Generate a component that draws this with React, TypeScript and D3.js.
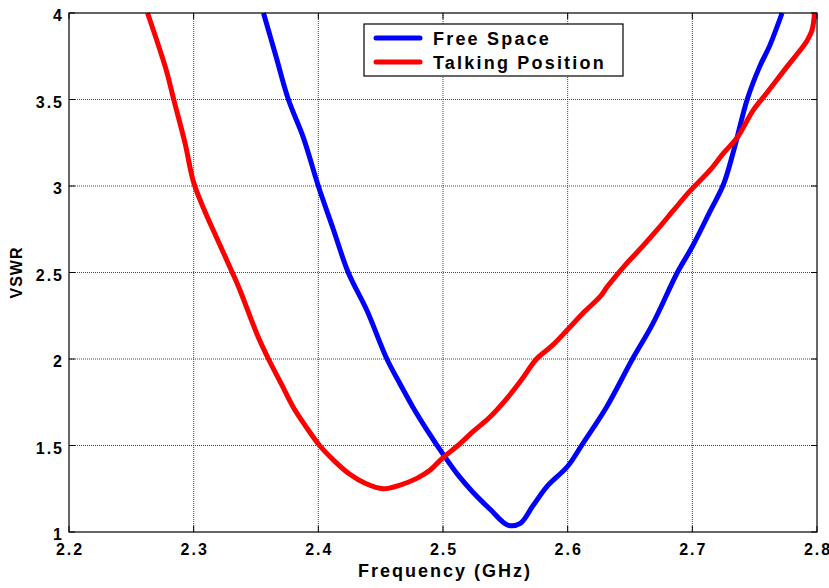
import React, { useRef, useEffect } from 'react';
import * as d3 from 'd3';

const WIDTH = 829;
const HEIGHT = 588;
const M = { left: 69, right: 12, top: 13, bottom: 56 };

// Free Space
const freeFreq = [
  2.356, 2.366, 2.376, 2.388, 2.4, 2.412, 2.424, 2.439, 2.455, 2.466, 2.476, 2.488, 2.5, 2.512,
  2.524, 2.538, 2.552, 2.562, 2.572, 2.583, 2.6, 2.612, 2.631, 2.652, 2.668, 2.688, 2.7, 2.714,
  2.725, 2.733, 2.744, 2.754, 2.762, 2.772,
];
const freeVswr = [
  4.0, 3.75, 3.5, 3.28, 3.0, 2.75, 2.5, 2.28, 2.0, 1.85, 1.72, 1.58, 1.45, 1.33,
  1.23, 1.13, 1.04, 1.05, 1.15, 1.26, 1.38, 1.51, 1.72, 2.0, 2.2, 2.5, 2.65, 2.85,
  3.01, 3.2, 3.5, 3.69, 3.81, 4.0,
];

// Talking Position
const talkFreq = [
  2.263, 2.278, 2.284, 2.293, 2.3, 2.308, 2.316, 2.331, 2.337, 2.351, 2.36, 2.37, 2.38, 2.39,
  2.401, 2.413, 2.425, 2.438, 2.452, 2.465, 2.479, 2.49, 2.5, 2.512, 2.524, 2.537, 2.551, 2.563,
  2.575, 2.588, 2.6, 2.613, 2.626, 2.632, 2.647, 2.66, 2.671, 2.685, 2.698, 2.714, 2.725, 2.736,
  2.749, 2.76, 2.776, 2.786, 2.792, 2.796, 2.798,
];
const talkVswr = [
  4.0, 3.67, 3.5, 3.25, 3.02, 2.87, 2.74, 2.5, 2.4, 2.14, 2.0, 1.86, 1.72, 1.61,
  1.5, 1.41, 1.335, 1.28, 1.25, 1.27, 1.31, 1.36, 1.43, 1.5, 1.58, 1.66, 1.77, 1.88,
  2.0, 2.08, 2.17, 2.27, 2.36, 2.42, 2.55, 2.65, 2.74, 2.86, 2.97, 3.09, 3.19, 3.28,
  3.44, 3.54, 3.69, 3.78, 3.84, 3.9, 4.0,
];

const xTicks = [2.2, 2.3, 2.4, 2.5, 2.6, 2.7, 2.8];
const yTicks = [1, 1.5, 2, 2.5, 3, 3.5, 4];

const seriesNames = ['Free Space', 'Talking Position'];
const seriesColors = ['#0000FF', '#FF0000'];

const FONT = 'Liberation Sans, Arial, Helvetica, sans-serif';

export default function App() {
  const svgRef = useRef<SVGSVGElement>(null);

  useEffect(() => {
    if (!svgRef.current) return;
    const svg = d3.select(svgRef.current);
    svg.selectAll('*').remove();

    const x0 = M.left;
    const x1 = WIDTH - M.right;
    const y0 = M.top;
    const y1 = HEIGHT - M.bottom;

    const x = d3.scaleLinear().domain([2.2, 2.8]).range([x0, x1]);
    const y = d3.scaleLinear().domain([1, 4]).range([y1, y0]);

    svg.append('rect').attr('width', WIDTH).attr('height', HEIGHT).attr('fill', '#fff');

    svg
      .append('defs')
      .append('clipPath')
      .attr('id', 'plot-clip')
      .append('rect')
      .attr('x', x0)
      .attr('y', y0 - 1)
      .attr('width', x1 - x0)
      .attr('height', y1 - y0 + 2);

    // dotted grid
    const grid = svg.append('g').attr('stroke', '#444').attr('stroke-width', 1).attr('stroke-dasharray', '1,1');
    xTicks.slice(1, -1).forEach((t) => {
      grid.append('line').attr('x1', x(t)).attr('x2', x(t)).attr('y1', y0).attr('y2', y1);
    });
    yTicks.slice(1, -1).forEach((t) => {
      grid.append('line').attr('x1', x0).attr('x2', x1).attr('y1', y(t)).attr('y2', y(t));
    });

    // inward ticks on all sides
    const tl = 6;
    const ticks = svg.append('g').attr('stroke', '#000').attr('stroke-width', 1);
    xTicks.forEach((t) => {
      ticks.append('line').attr('x1', x(t)).attr('x2', x(t)).attr('y1', y1).attr('y2', y1 - tl);
      ticks.append('line').attr('x1', x(t)).attr('x2', x(t)).attr('y1', y0).attr('y2', y0 + tl);
    });
    yTicks.forEach((t) => {
      ticks.append('line').attr('x1', x0).attr('x2', x0 + tl).attr('y1', y(t)).attr('y2', y(t));
      ticks.append('line').attr('x1', x1).attr('x2', x1 - tl).attr('y1', y(t)).attr('y2', y(t));
    });

    // curves
    const line = d3
      .line<[number, number]>()
      .x((d) => x(d[0]))
      .y((d) => y(d[1]))
      .curve(d3.curveCatmullRom.alpha(0.5));

    const series: [number, number][][] = [
      freeFreq.map((f, i) => [f, freeVswr[i]]),
      talkFreq.map((f, i) => [f, talkVswr[i]]),
    ];
    const curves = svg.append('g').attr('clip-path', 'url(#plot-clip)');
    series.forEach((pts, i) => {
      curves
        .append('path')
        .attr('d', line(pts) ?? '')
        .attr('fill', 'none')
        .attr('stroke', seriesColors[i])
        .attr('stroke-width', 5)
        .attr('stroke-linejoin', 'round');
    });

    // frame
    svg
      .append('rect')
      .attr('x', x0)
      .attr('y', y0)
      .attr('width', x1 - x0)
      .attr('height', y1 - y0)
      .attr('fill', 'none')
      .attr('stroke', '#000')
      .attr('stroke-width', 1.2);

    // tick labels
    const labels = svg
      .append('g')
      .attr('font-family', FONT)
      .attr('font-weight', 'bold')
      .attr('font-size', '16px')
      .attr('letter-spacing', '2px')
      .attr('fill', '#000');
    xTicks.forEach((t) => {
      labels
        .append('text')
        .attr('x', x(t) + 1)
        .attr('y', y1 + 23)
        .attr('text-anchor', 'middle')
        .text(String(t));
    });
    yTicks.forEach((t) => {
      labels
        .append('text')
        .attr('x', x0 - 5)
        .attr('y', y(t) + 8)
        .attr('text-anchor', 'end')
        .text(String(t));
    });

    // axis titles
    svg
      .append('text')
      .attr('x', (x0 + x1) / 2 + 2)
      .attr('y', 577)
      .attr('text-anchor', 'middle')
      .attr('font-family', FONT)
      .attr('font-weight', 'bold')
      .attr('font-size', '18px')
      .attr('letter-spacing', '2px')
      .text('Frequency (GHz)');

    svg
      .append('text')
      .attr('transform', `translate(22, ${(y0 + y1) / 2}) rotate(-90)`)
      .attr('text-anchor', 'middle')
      .attr('font-family', FONT)
      .attr('font-weight', 'bold')
      .attr('font-size', '16px')
      .attr('letter-spacing', '1px')
      .text('VSWR');

    // legend
    const lg = svg.append('g').attr('transform', 'translate(364, 24)');
    lg.append('rect')
      .attr('width', 259)
      .attr('height', 52)
      .attr('fill', '#fff')
      .attr('stroke', '#000')
      .attr('stroke-width', 1.2);
    seriesNames.forEach((name, i) => {
      const ly = 14 + i * 24;
      lg.append('line')
        .attr('x1', 12)
        .attr('x2', 56)
        .attr('y1', ly)
        .attr('y2', ly)
        .attr('stroke', seriesColors[i])
        .attr('stroke-width', 5)
        .attr('stroke-linecap', 'round');
      lg.append('text')
        .attr('x', 69)
        .attr('y', ly + 7)
        .attr('font-family', FONT)
        .attr('font-weight', 'bold')
        .attr('font-size', '18px')
        .attr('letter-spacing', '2.2px')
        .text(name);
    });
  }, []);

  return (
    <svg
      ref={svgRef}
      width={WIDTH}
      height={HEIGHT}
      style={{ position: 'absolute', left: 0, top: 0, display: 'block' }}
    />
  );
}
